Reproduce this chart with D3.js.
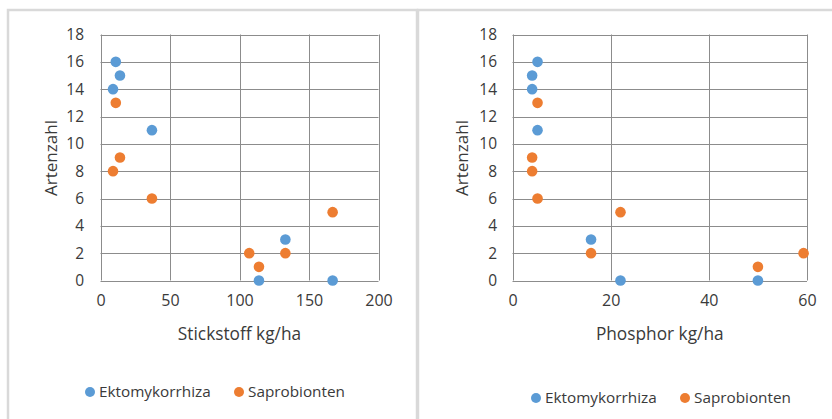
<!DOCTYPE html>
<html><head><meta charset="utf-8">
<script src="https://cdn.jsdelivr.net/npm/d3@7"></script>
<style>
html,body{margin:0;padding:0;background:#fff;}
svg text{font-family:"Open Sans",sans-serif;fill:#3a3a3a;}
</style></head>
<body>
<svg id="c" width="832" height="419"></svg>
<script>
// ---- data ----
const seriesNames = ["Ektomykorrhiza", "Saprobionten"];
const seriesColors = ["#5B9BD5", "#ED7D31"];
const yTicks = [0, 2, 4, 6, 8, 10, 12, 14, 16, 18];

// Stickstoff chart
const nTicks = [0, 50, 100, 150, 200];
const ektoN = [[11, 16], [14, 15], [9, 14], [37, 11], [133, 3], [114, 0], [167, 0]];
const saproN = [[11, 13], [14, 9], [9, 8], [37, 6], [167, 5], [107, 2], [133, 2], [114, 1]];

// Phosphor chart
const pTicks = [0, 20, 40, 60];
const ektoP = [[5.1, 16], [4, 15], [4, 14], [5.1, 11], [16, 3], [22, 0], [50, 0]];
const saproP = [[5.1, 13], [4, 9], [4, 8], [5.1, 6], [22, 5], [16, 2], [50, 1], [59.3, 2]];

const svg = d3.select("#c");

function chart(o) {
  const g = svg.append("g");
  // frame
  g.append("rect").attr("x", o.fx).attr("y", 10).attr("width", o.fw).attr("height", 430)
    .attr("fill", "#fff").attr("stroke", "#d9d9d9").attr("stroke-width", 2.5);

  const x = d3.scaleLinear().domain(o.xDomain).range([o.x0, o.x1]);
  const y = d3.scaleLinear().domain([0, 18]).range([280.5, 34.5]);

  // gridlines
  g.append("g").selectAll("line").data(yTicks).join("line")
    .attr("x1", o.x0).attr("x2", o.x1)
    .attr("y1", d => Math.round(y(d)) + 0.5).attr("y2", d => Math.round(y(d)) + 0.5)
    .attr("stroke", "#8c8c8c").attr("stroke-width", 1);
  g.append("g").selectAll("line").data(o.xTicks).join("line")
    .attr("y1", y(0)).attr("y2", y(18))
    .attr("x1", d => Math.round(x(d)) + 0.5).attr("x2", d => Math.round(x(d)) + 0.5)
    .attr("stroke", "#8c8c8c").attr("stroke-width", 1);

  // axes labels
  const yAxis = d3.axisLeft(y).tickValues(yTicks).tickSize(0).tickPadding(0);
  const ya = g.append("g").attr("transform", `translate(${o.yLabelX},0)`).call(yAxis);
  ya.select(".domain").remove();
  ya.selectAll("text").style("font-size", "15.5px").attr("fill", "#3a3a3a");

  const xAxis = d3.axisBottom(x).tickValues(o.xTicks).tickSize(0).tickPadding(0);
  const xa = g.append("g").attr("transform", `translate(0,295)`).call(xAxis);
  xa.select(".domain").remove();
  xa.selectAll("text").style("font-size", "16px").attr("fill", "#3a3a3a");

  // titles
  g.append("text").attr("x", (o.x0 + o.x1) / 2).attr("y", 340).attr("text-anchor", "middle")
    .style("font-size", "17.3px").text(o.xTitle);
  g.append("text").attr("transform", `translate(${o.yTitleX},158) rotate(-90)`)
    .attr("text-anchor", "middle").attr("dy", "0.35em").style("font-size", "17px").text("Artenzahl");

  // points
  [o.s1, o.s2].forEach((s, i) => {
    g.append("g").selectAll("circle").data(s).join("circle")
      .attr("cx", d => x(d[0])).attr("cy", d => y(d[1])).attr("r", 5.3)
      .attr("fill", seriesColors[i]);
  });

  // legend
  const lg = g.append("g");
  seriesNames.forEach((n, i) => {
    lg.append("circle").attr("cx", o.legX[i]).attr("cy", o.legY).attr("r", 5).attr("fill", seriesColors[i]);
    lg.append("text").attr("x", o.legX[i] + 9).attr("y", o.legY).attr("dy", "0.35em")
      .style("font-size", "15.3px").text(n);
  });
}

chart({
  fx: 8, fw: 409, x0: 100.5, x1: 378.5, xDomain: [0, 200], xTicks: nTicks,
  yLabelX: 84, yTitleX: 51, xTitle: "Stickstoff kg/ha", s1: ektoN, s2: saproN,
  legX: [90, 239], legY: 392
});
chart({
  fx: 418, fw: 430, x0: 512.5, x1: 807, xDomain: [0, 60], xTicks: pTicks,
  yLabelX: 497, yTitleX: 462, xTitle: "Phosphor kg/ha", s1: ektoP, s2: saproP,
  legX: [536, 685], legY: 398
});
</script>
</body></html>
